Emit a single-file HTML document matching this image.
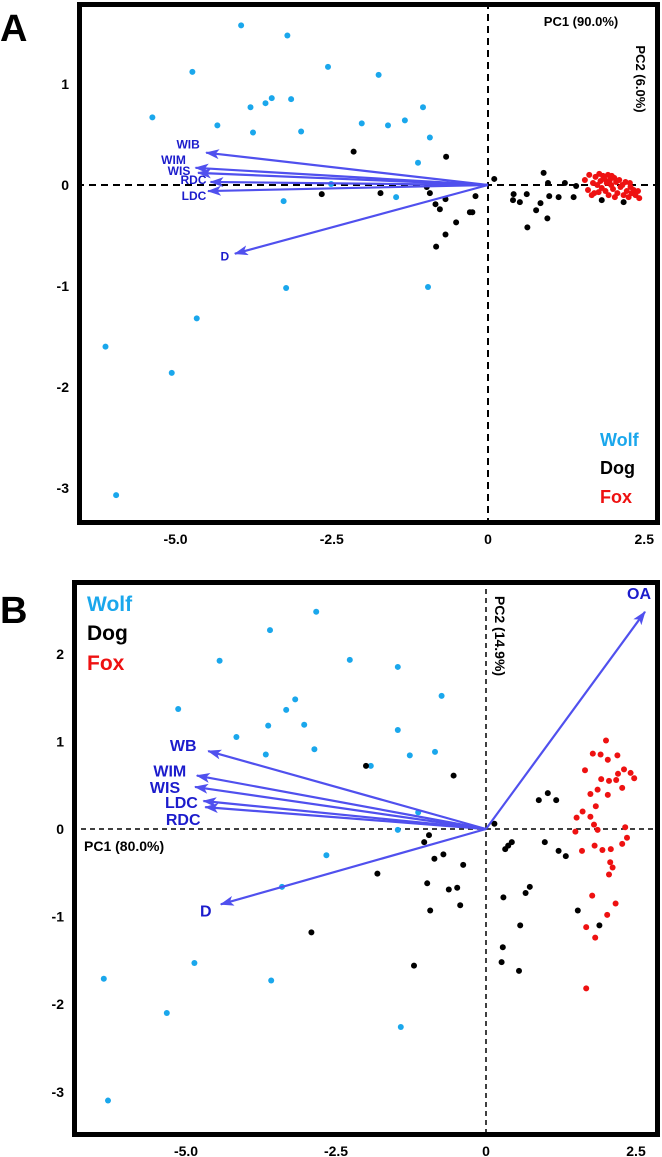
<!DOCTYPE html>
<html><head><meta charset="utf-8">
<style>
html,body{margin:0;padding:0;background:#fff;}
svg{display:block;font-family:"Liberation Sans",Arial,sans-serif;font-weight:bold;}
</style></head>
<body>
<svg id="chart" width="662" height="1157" viewBox="0 0 662 1157" xmlns="http://www.w3.org/2000/svg">
<defs>
<marker id="ah" markerWidth="14" markerHeight="10" refX="13" refY="5" orient="auto" markerUnits="userSpaceOnUse">
<path d="M0,0 L14,5 L0,10 L3.5,5 Z" fill="#5050ee"/>
</marker>
</defs>
<text x="0" y="41" font-size="38" fill="#000">A</text>
<text x="0" y="623" font-size="38" fill="#000">B</text>
</svg>
<script>
// ---------- Panel A data ----------
const aWolfX = [-3.95,-3.21,-4.73,-2.56,-1.75,-5.37,-3.80,-3.56,-3.46,-3.15,-4.33,-3.76,-2.99,-2.02,-1.60,-1.33,-1.04,-0.93,-1.12,-2.51,-3.27,-1.47,-3.23,-0.96,-6.12,-4.66,-5.06,-5.95];
const aWolfY = [1.58,1.48,1.12,1.17,1.09,0.67,0.77,0.81,0.86,0.85,0.59,0.52,0.53,0.61,0.59,0.64,0.77,0.47,0.22,0.01,-0.16,-0.12,-1.02,-1.01,-1.6,-1.32,-1.86,-3.07];
const aDogX = [-2.15,-0.67,-2.66,-1.72,-0.98,-0.93,-0.84,-0.68,-0.77,-0.20,-0.29,-0.25,-0.51,-0.68,-0.83,0.10,0.89,0.96,1.23,1.41,0.41,0.62,0.40,0.51,0.84,0.98,1.13,1.37,0.77,0.95,0.63,1.82,2.17];
const aDogY = [0.33,0.28,-0.09,-0.08,-0.02,-0.08,-0.19,-0.14,-0.24,-0.11,-0.27,-0.27,-0.37,-0.49,-0.61,0.06,0.12,0.02,0.02,-0.01,-0.09,-0.09,-0.15,-0.17,-0.18,-0.11,-0.12,-0.12,-0.25,-0.33,-0.42,-0.15,-0.17];
const aFoxX = [1.55,1.6,1.62,1.68,1.7,1.72,1.75,1.78,1.8,1.82,1.84,1.86,1.88,1.9,1.92,1.93,1.95,1.97,2.0,2.02,2.05,2.07,2.1,2.12,2.15,2.17,2.2,2.22,2.25,2.28,2.3,2.33,2.36,2.4,1.66,1.77,2.03,1.98,2.27,2.42];
const aFoxY = [0.05,-0.05,0.1,0.02,-0.08,0.08,0.0,0.11,0.04,-0.03,0.09,0.06,-0.06,0.02,0.1,-0.1,0.05,0.0,-0.04,0.07,0.03,-0.08,0.05,-0.02,0.0,-0.1,0.03,-0.06,-0.12,-0.02,-0.08,-0.05,-0.1,-0.06,-0.1,-0.07,-0.12,0.09,0.02,-0.13];
const aVecNames = ["WIB","WIM","WIS","RDC","LDC","D"];
const aVecX = [-4.51,-4.68,-4.64,-4.44,-4.48,-4.05];
const aVecY = [0.32,0.17,0.12,0.03,-0.06,-0.68];
const aXTicks = [-5.0,-2.5,0,2.5];
const aXTickLabels = ["-5.0","-2.5","0","2.5"];
const aYTicks = [1,0,-1,-2,-3];
const aYTickLabels = ["1","0","-1","-2","-3"];

// ---------- Panel B data ----------
const bWolfX = [-2.83,-3.60,-4.44,-2.27,-1.47,-5.13,-3.18,-3.33,-0.74,-4.16,-3.63,-3.03,-1.47,-3.67,-2.86,-1.27,-0.85,-1.92,-1.13,-1.47,-2.66,-3.40,-4.86,-6.37,-3.58,-5.32,-1.42,-6.30];
const bWolfY = [2.48,2.27,1.92,1.93,1.85,1.37,1.48,1.36,1.52,1.05,1.18,1.19,1.13,0.85,0.91,0.84,0.88,0.72,0.19,-0.01,-0.30,-0.66,-1.53,-1.71,-1.73,-2.10,-2.26,-3.10];
const bDogX = [-2.0,-0.54,-0.95,-1.03,-0.86,-0.71,-0.38,-1.81,0.14,0.88,1.03,1.17,0.32,0.43,0.37,0.98,1.21,1.33,-0.98,-0.62,-0.48,-0.43,-0.93,-2.91,-1.20,0.29,0.66,0.73,0.57,0.28,0.26,0.55,1.53,1.89];
const bDogY = [0.72,0.61,-0.07,-0.15,-0.34,-0.29,-0.41,-0.51,0.06,0.33,0.41,0.33,-0.23,-0.15,-0.19,-0.15,-0.25,-0.31,-0.62,-0.69,-0.67,-0.87,-0.93,-1.18,-1.56,-0.78,-0.73,-0.66,-1.10,-1.35,-1.52,-1.62,-0.93,-1.10];
const bFoxX = [2.0,1.78,1.91,2.19,2.03,1.65,2.30,2.20,2.41,2.47,1.92,2.05,2.17,1.86,2.27,1.74,2.03,1.83,1.61,1.74,1.51,1.80,2.32,1.49,1.86,2.35,1.81,2.27,1.60,1.94,2.08,2.07,2.11,2.05,1.77,2.16,2.02,1.67,1.82,1.67];
const bFoxY = [1.01,0.86,0.85,0.84,0.79,0.67,0.68,0.63,0.64,0.58,0.57,0.55,0.56,0.45,0.47,0.40,0.39,0.26,0.20,0.14,0.13,0.05,0.02,-0.03,-0.01,-0.10,-0.19,-0.17,-0.25,-0.24,-0.23,-0.38,-0.44,-0.52,-0.76,-0.85,-0.98,-1.12,-1.24,-1.82];
const bVecNames = ["OA","WB","WIM","WIS","LDC","RDC","D"];
const bVecX = [2.65,-4.63,-4.82,-4.85,-4.71,-4.68,-4.42];
const bVecY = [2.48,0.89,0.61,0.48,0.32,0.25,-0.86];
const bXTicks = [-5.0,-2.5,0,2.5];
const bXTickLabels = ["-5.0","-2.5","0","2.5"];
const bYTicks = [2,1,0,-1,-2,-3];
const bYTickLabels = ["2","1","0","-1","-2","-3"];

const NS = "http://www.w3.org/2000/svg";
const svg = document.getElementById('chart');
function mk(tag, attrs, parent){
  const e = document.createElementNS(NS, tag);
  for (const k in attrs) e.setAttribute(k, attrs[k]);
  (parent||svg).appendChild(e);
  return e;
}

function drawPanel(p, d){
  const sx = v => p.x0 + v*p.xu;
  const sy = v => p.y0 - v*p.yu;
  const g = mk('g', {});
  
  
  const hz = mk('line', {x1:p.L, x2:p.R, y1:sy(0), y2:sy(0), stroke:'#000', 'stroke-width':p.dw, 'stroke-dasharray':p.dash}, g);
  
  
  const vt = mk('line', {x1:sx(0), x2:sx(0), y1:p.T, y2:p.B, stroke:'#000', 'stroke-width':p.dw, 'stroke-dasharray':p.dash}, g);
  
  
  const series = [[d.wx,d.wy,'#1aa7ec','wolf'],[d.dx,d.dy,'#000','dog'],[d.fx,d.fy,'#ee1111','fox']];
  series.forEach(s=>{
    for (let i=0;i<s[0].length;i++){
      const c = mk('circle', {cx:sx(s[0][i]), cy:sy(s[1][i]), r:3, fill:s[2]}, g);
      
      
    }
  });
  for (let i=0;i<d.vn.length;i++){
    const ln = mk('line', {x1:sx(0), y1:sy(0), x2:sx(d.vx[i]), y2:sy(d.vy[i]), stroke:'#5050ee', 'stroke-width':2.2, 'marker-end':'url(#ah)'}, g);
    
    
    const off = p.labOff[i];
    const t = mk('text', {x:sx(d.vx[i])+off[0], y:sy(d.vy[i])+off[1], 'font-size':p.vfs, fill:'#1c1ccc', 'text-anchor':'middle'}, g);
    t.textContent = d.vn[i];
    
    
  }
  const fr = mk('rect', {x:p.L+2.5, y:p.T+2.5, width:p.R-p.L-5, height:p.B-p.T-5, fill:'none', stroke:'#000', 'stroke-width':5}, g);
  
  
  for (let i=0;i<d.xt.length;i++){
    let x = sx(d.xt[i]);
    if (i===d.xt.length-1) x = Math.min(x, 648);
    const t = mk('text', {x:x, y:p.B+19, 'font-size':14, 'text-anchor':'middle', fill:'#000'}, g);
    t.textContent = d.xtl[i];
    
    
  }
  for (let i=0;i<d.yt.length;i++){
    const t = mk('text', {x:p.L-8, y:sy(d.yt[i])+5, 'font-size':14, 'text-anchor':'end', fill:'#000'}, g);
    t.textContent = d.ytl[i];
    
    
  }
  return g;
}

const gA = drawPanel(
  {id:'panel-a', L:77, R:660, T:2, B:525, x0:488, xu:62.5, y0:185, yu:101, dash:'7,5', dw:2, vfs:12,
   labOff:[[-18,-4],[-22,-4],[-19,2],[-17,2],[-14,9],[-10,7]]},
  {wx:aWolfX, wy:aWolfY, dx:aDogX, dy:aDogY, fx:aFoxX, fy:aFoxY, vn:aVecNames, vx:aVecX, vy:aVecY,
   xt:aXTicks, xtl:aXTickLabels, yt:aYTicks, ytl:aYTickLabels});
const gB = drawPanel(
  {id:'panel-b', L:72, R:660, T:580, B:1137, x0:486, xu:60, y0:829, yu:87.6, dash:'5,4', dw:1.5, vfs:16,
   labOff:[[-6,-13],[-25,0],[-27,1],[-30,6],[-22,7],[-22,18],[-15,12]]},
  {wx:bWolfX, wy:bWolfY, dx:bDogX, dy:bDogY, fx:bFoxX, fy:bFoxY, vn:bVecNames, vx:bVecX, vy:bVecY,
   xt:bXTicks, xtl:bXTickLabels, yt:bYTicks, ytl:bYTickLabels});

function txt(s, attrs, name, parent){
  const t = mk('text', attrs, parent);
  t.textContent = s;
  
  
  return t;
}
txt('PC1 (90.0%)', {x:581, y:26, 'font-size':13, 'text-anchor':'middle', fill:'#000'}, 'panel-a-pc1-axis-title', gA);
txt('PC2 (6.0%)', {x:0, y:0, 'font-size':13, 'text-anchor':'middle', fill:'#000', transform:'translate(636,79) rotate(90)'}, 'panel-a-pc2-axis-title', gA);
txt('Wolf', {x:600, y:446, 'font-size':18, fill:'#1aa7ec'}, 'panel-a-legend-wolf', gA);
txt('Dog', {x:600, y:474, 'font-size':18, fill:'#000'}, 'panel-a-legend-dog', gA);
txt('Fox', {x:600, y:503, 'font-size':18, fill:'#ee1111'}, 'panel-a-legend-fox', gA);
txt('PC1 (80.0%)', {x:84, y:851, 'font-size':14, fill:'#000'}, 'panel-b-pc1-axis-title', gB);
txt('PC2 (14.9%)', {x:0, y:0, 'font-size':14, 'text-anchor':'middle', fill:'#000', transform:'translate(495,636) rotate(90)'}, 'panel-b-pc2-axis-title', gB);
txt('Wolf', {x:87, y:611, 'font-size':21, fill:'#1aa7ec'}, 'panel-b-legend-wolf', gB);
txt('Dog', {x:87, y:640, 'font-size':21, fill:'#000'}, 'panel-b-legend-dog', gB);
txt('Fox', {x:87, y:670, 'font-size':21, fill:'#ee1111'}, 'panel-b-legend-fox', gB);
</script>
</body></html>
